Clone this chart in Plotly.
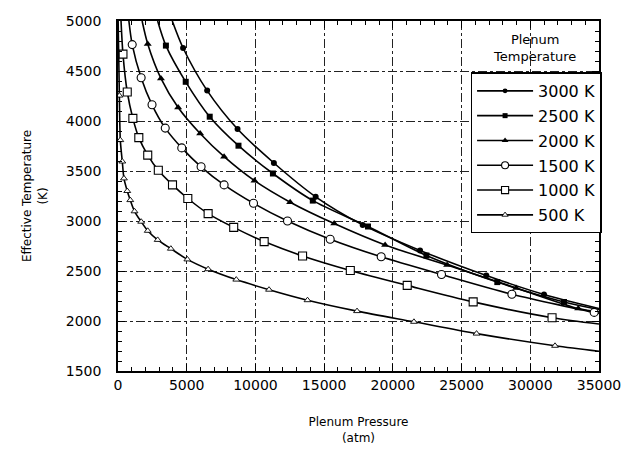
import plotly.graph_objects as go

# ---- data ----
series_names = ["3000 K", "2500 K", "2000 K", "1500 K", "1000 K", "500 K"]

pressure_3000 = [3950, 4736, 6488, 8698, 11344, 14384, 17804, 21980, 26800, 31000, 35000]
temp_3000 = [5000, 4730, 4304, 3920, 3580, 3242, 2961, 2706, 2455, 2265, 2125]

pressure_2500 = [2885, 3486, 4928, 6674, 8767, 11273, 14175, 18190, 22440, 27600, 32450, 35000]
temp_2500 = [5000, 4754, 4392, 4043, 3753, 3475, 3204, 2945, 2655, 2389, 2190, 2115]

pressure_2000 = [1755, 2163, 3125, 4375, 5977, 7721, 9930, 12525, 15732, 19437, 23950, 28970, 33490, 35000]
temp_2000 = [5000, 4771, 4426, 4135, 3875, 3643, 3403, 3188, 2974, 2760, 2559, 2330, 2125, 2090]

pressure_1500 = [793, 1034, 1683, 2476, 3438, 4639, 6047, 7721, 9860, 12334, 15439, 19151, 23540, 28660, 34650, 35000]
temp_1500 = [5000, 4764, 4432, 4162, 3929, 3731, 3542, 3361, 3177, 3000, 2818, 2642, 2465, 2268, 2086, 2078]

pressure_1000 = [220, 361, 673, 1082, 1514, 2163, 2933, 3966, 5080, 6558, 8419, 10636, 13430, 16903, 21046, 25844, 31584, 35000]
temp_1000 = [5000, 4669, 4290, 4026, 3834, 3659, 3507, 3361, 3225, 3074, 2936, 2794, 2650, 2505, 2356, 2191, 2033, 1970]

pressure_500 = [10, 100, 168, 312, 433, 673, 893, 1203, 1686, 2163, 2885, 3846, 5047, 6558, 8605, 10990, 13790, 17394, 21534, 26090, 31800, 35000]
temp_500 = [5000, 4254, 3809, 3595, 3426, 3300, 3209, 3097, 2993, 2902, 2811, 2723, 2616, 2518, 2414, 2313, 2208, 2099, 1992, 1874, 1752, 1697]

x_ticks = [0, 5000, 10000, 15000, 20000, 25000, 30000, 35000]
y_ticks = [1500, 2000, 2500, 3000, 3500, 4000, 4500, 5000]

# ---- styles ----
FONT = "DejaVu Sans"
styles = [
    dict(symbol="circle", color="black", size=6, lw=0),
    dict(symbol="square", color="black", size=6, lw=0),
    dict(symbol="triangle-up", color="black", size=7, lw=0),
    dict(symbol="circle", color="#ffffff", size=8, lw=1.1),
    dict(symbol="square", color="#ffffff", size=8, lw=1.1),
    dict(symbol="triangle-up", color="#ffffff", size=6, lw=0.9),
]
data = [
    (pressure_3000, temp_3000),
    (pressure_2500, temp_2500),
    (pressure_2000, temp_2000),
    (pressure_1500, temp_1500),
    (pressure_1000, temp_1000),
    (pressure_500, temp_500),
]

fig = go.Figure()
for i, (name, (px, ty), st) in enumerate(zip(series_names, data, styles)):
    n = len(px)
    sizes = [0] + [st["size"]] * (n - 2) + [0]
    fig.add_trace(go.Scatter(
        x=px, y=ty, name=name, mode="lines+markers", legendgroup=f"g{i}",
        line=dict(color="black", width=1.6, shape="spline", smoothing=0.8),
        marker=dict(symbol=st["symbol"], color=st["color"], size=sizes, opacity=1,
                    line=dict(color="black", width=st["lw"])),
    ))

fig.update_layout(
    width=633, height=459,
    margin=dict(l=118, r=23, t=21, b=88),
    paper_bgcolor="white", plot_bgcolor="white",
    font=dict(family=FONT, color="black"),
    showlegend=True,
    legend=dict(
        x=0.733, y=0.853, xanchor="left", yanchor="top",
        bgcolor="white", bordercolor="black", borderwidth=1.5,
        font=dict(family=FONT, size=16, color="black"),
        tracegroupgap=1, itemwidth=56,
    ),
    shapes=[dict(type="rect", xref="paper", yref="paper",
                 x0=0.70, x1=0.995, y0=0.85, y1=0.995,
                 fillcolor="white", line=dict(width=0), layer="between")],
    annotations=[dict(text="Plenum<br>Temperature", xref="paper", yref="paper",
                      x=0.866, y=0.923, xanchor="center", yanchor="middle",
                      showarrow=False,
                      font=dict(family=FONT, size=13, color="black"))],
)

axis_common = dict(
    showline=True, linecolor="black", linewidth=1.5, mirror="allticks",
    ticks="inside", ticklen=7, tickwidth=1.3, tickcolor="black",
    showgrid=True, gridcolor="#222", gridwidth=0.8, griddash="dashdot",
    zeroline=False,
    tickfont=dict(family=FONT, size=14, color="black"),
)
fig.update_xaxes(
    range=[0, 35000], tickvals=x_ticks, ticktext=[str(v) for v in x_ticks],
    minor=dict(dtick=1000, ticks="inside", ticklen=4, tickcolor="black", showgrid=False),
    title=dict(text="Plenum Pressure<br>(atm)", font=dict(family=FONT, size=12, color="black"), standoff=26),
    **axis_common,
)
fig.update_yaxes(
    range=[1500, 5000], tickvals=y_ticks, ticktext=[str(v) for v in y_ticks],
    minor=dict(dtick=100, ticks="inside", ticklen=4, tickcolor="black", showgrid=False),
    ticklabelstandoff=12,
    title=dict(text="Effective Temperature<br>(K)", font=dict(family=FONT, size=12, color="black"), standoff=16),
    **axis_common,
)

fig.write_html("out.html")
